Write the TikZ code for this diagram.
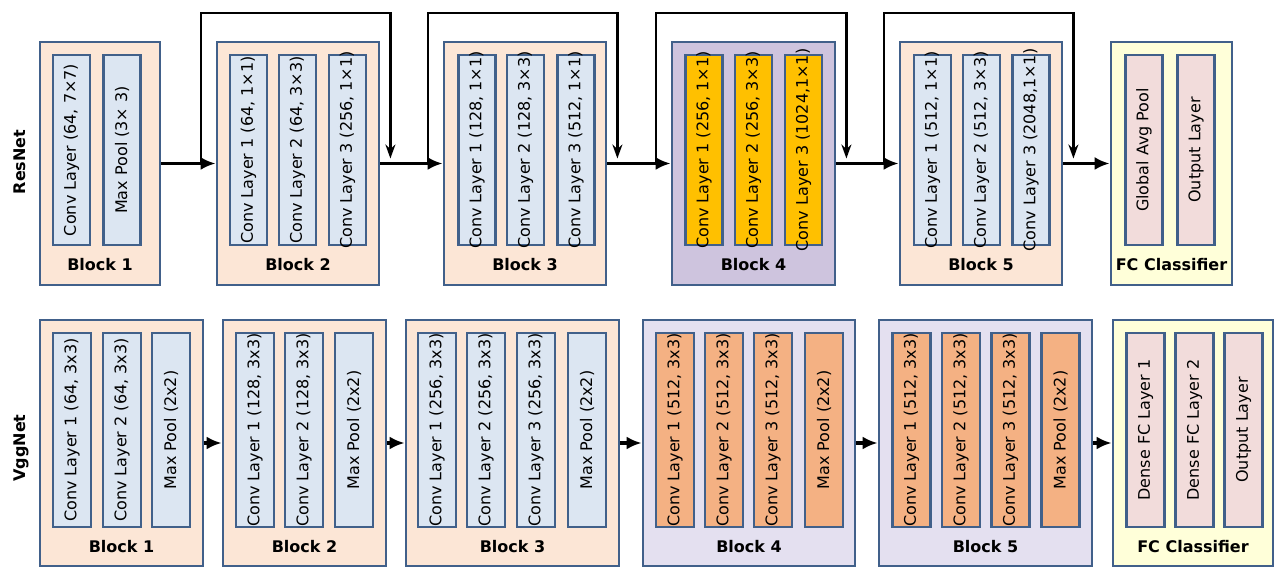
\documentclass[tikz,border=0pt]{standalone}
\usepackage{fontspec}
\setmainfont{DejaVu Sans}
\usetikzlibrary{arrows.meta,calc}
\definecolor{EdgeBlue}{HTML}{41608A}
\definecolor{PeachFill}{HTML}{FCE6D6}
\definecolor{IceBlue}{HTML}{DCE6F2}
\definecolor{LilacDark}{HTML}{CEC4DE}
\definecolor{LilacLight}{HTML}{E4E0F0}
\definecolor{GoldFill}{HTML}{FFC000}
\definecolor{ApricotFill}{HTML}{F4B183}
\definecolor{CreamFill}{HTML}{FFFFD9}
\definecolor{RoseFill}{HTML}{F2DCDB}

\begin{document}
\begin{tikzpicture}[x=1pt, y=1pt,
  blk/.style={draw=EdgeBlue, line width=2.8pt, fill=PeachFill, inner sep=0pt},
  rblk/.style={blk, minimum height=243pt},
  vblk/.style={blk, minimum height=246pt},
  layer/.style={draw=EdgeBlue, line width=2.6pt, fill=IceBlue, rotate=90, inner sep=0pt, minimum height=37pt,
    font=\fontsize{16}{19}\selectfont,
    execute at begin node={\hbox to 0pt\bgroup\hss}, execute at end node={\hss\egroup}},
  rlayer/.style={layer, minimum width=190pt},
  vlayer/.style={layer, minimum width=194pt, minimum height=38pt},
  tag/.style={font=\fontsize{16}{19}\selectfont\bfseries},
  flow/.style={line width=3.2pt, -{Latex[length=15pt,width=13pt]}},
  skip/.style={line width=2.2pt, -{Stealth[length=14pt,width=10pt]}}
]
\useasboundingbox (0,0) rectangle (1277,570);

% ResNet row
\node[tag, rotate=90] (rname) at (20,408) {ResNet};
\node[rblk, minimum width=120pt] (r1) at (100,406.5) {};
\node[rblk, minimum width=162pt] (r2) at (298,406.5) {};
\node[rblk, minimum width=162pt] (r3) at (525,406.5) {};
\node[rblk, minimum width=163pt, fill=LilacDark] (r4) at (753.5,406.5) {};
\node[rblk, minimum width=162pt] (r5) at (981,406.5) {};
\node[rblk, minimum width=121pt, fill=CreamFill] (rfc) at (1171.5,406.5) {};

\node[rlayer] (r1a) at (71.5,420) {Conv Layer (64, 7×7)};
\node[rlayer] (r1b) at (122,420) {Max Pool (3× 3)};
\node[rlayer] (r2a) at (248.5,420) {Conv Layer 1 (64, 1×1)};
\node[rlayer] (r2b) at (297.5,420) {Conv Layer 2 (64, 3×3)};
\node[rlayer] (r2c) at (347.5,420) {Conv Layer 3 (256, 1×1)};
\node[rlayer] (r3a) at (477,420) {Conv Layer 1 (128, 1×1)};
\node[rlayer] (r3b) at (525.5,420) {Conv Layer 2 (128, 3×3)};
\node[rlayer] (r3c) at (576,420) {Conv Layer 3 (512, 1×1)};
\node[rlayer, fill=GoldFill] (r4a) at (704,420) {Conv Layer 1 (256, 1×1)};
\node[rlayer, fill=GoldFill] (r4b) at (753.5,420) {Conv Layer 2 (256, 3×3)};
\node[rlayer, fill=GoldFill] (r4c) at (803.5,420) {Conv Layer 3 (1024,1×1)};
\node[rlayer] (r5a) at (932.5,420) {Conv Layer 1 (512, 1×1)};
\node[rlayer] (r5b) at (981.5,420) {Conv Layer 2 (512, 3×3)};
\node[rlayer] (r5c) at (1031,420) {Conv Layer 3 (2048,1×1)};
\node[rlayer, fill=RoseFill] (rfca) at (1144,420) {Global Avg Pool};
\node[rlayer, fill=RoseFill] (rfcb) at (1196,420) {Output Layer};

\node[tag] (r1t) at (100,305) {Block 1};
\node[tag] (r2t) at (298,305) {Block 2};
\node[tag] (r3t) at (525,305) {Block 3};
\node[tag] (r4t) at (753.5,305) {Block 4};
\node[tag] (r5t) at (981,305) {Block 5};
\node[tag] (rfct) at (1171.5,305) {FC Classifier};

\draw[flow] (r1.east) -- (r2.west);
\draw[flow] (r2.east) -- (r3.west);
\draw[flow] (r3.east) -- (r4.west);
\draw[flow] (r4.east) -- (r5.west);
\draw[flow] (r5.east) -- (rfc.west);

% skip connections
\draw[skip] ($(r2.west)+(-15,0)$) -- ++(0,150.5) -| ($(r2.east)+(10,5)$);
\draw[skip] ($(r3.west)+(-15,0)$) -- ++(0,150.5) -| ($(r3.east)+(10,5)$);
\draw[skip] ($(r4.west)+(-15,0)$) -- ++(0,150.5) -| ($(r4.east)+(10,5)$);
\draw[skip] ($(r5.west)+(-15,0)$) -- ++(0,150.5) -| ($(r5.east)+(10,5)$);

% VggNet row
\node[tag, rotate=90] (vname) at (21,122) {VggNet};
\node[vblk, minimum width=163pt] (v1) at (121.5,127) {};
\node[vblk, minimum width=163pt] (v2) at (304.5,127) {};
\node[vblk, minimum width=213pt] (v3) at (512.5,127) {};
\node[vblk, minimum width=212pt, fill=LilacLight] (v4) at (749,127) {};
\node[vblk, minimum width=213pt, fill=LilacLight] (v5) at (985.5,127) {};
\node[vblk, minimum width=160pt, fill=CreamFill] (vfc) at (1193,127) {};

\node[vlayer] (v1a) at (72,140) {Conv Layer 1 (64, 3x3)};
\node[vlayer] (v1b) at (122,140) {Conv Layer 2 (64, 3x3)};
\node[vlayer] (v1c) at (171,140) {Max Pool (2x2)};
\node[vlayer] (v2a) at (255,140) {Conv Layer 1 (128, 3x3)};
\node[vlayer] (v2b) at (304,140) {Conv Layer 2 (128, 3x3)};
\node[vlayer] (v2c) at (354,140) {Max Pool (2x2)};
\node[vlayer] (v3a) at (437,140) {Conv Layer 1 (256, 3x3)};
\node[vlayer] (v3b) at (486,140) {Conv Layer 2 (256, 3x3)};
\node[vlayer] (v3c) at (536,140) {Conv Layer 3 (256, 3x3)};
\node[vlayer] (v3d) at (587,140) {Max Pool (2x2)};
\node[vlayer, fill=ApricotFill] (v4a) at (675,140) {Conv Layer 1 (512, 3x3)};
\node[vlayer, fill=ApricotFill] (v4b) at (724,140) {Conv Layer 2 (512, 3x3)};
\node[vlayer, fill=ApricotFill] (v4c) at (773,140) {Conv Layer 3 (512, 3x3)};
\node[vlayer, fill=ApricotFill] (v4d) at (824,140) {Max Pool (2x2)};
\node[vlayer, fill=ApricotFill] (v5a) at (911.5,140) {Conv Layer 1 (512, 3x3)};
\node[vlayer, fill=ApricotFill] (v5b) at (961,140) {Conv Layer 2 (512, 3x3)};
\node[vlayer, fill=ApricotFill] (v5c) at (1010.5,140) {Conv Layer 3 (512, 3x3)};
\node[vlayer, fill=ApricotFill] (v5d) at (1060.5,140) {Max Pool (2x2)};
\node[vlayer, fill=RoseFill] (vfca) at (1145.5,140) {Dense FC Layer 1};
\node[vlayer, fill=RoseFill] (vfcb) at (1194.5,140) {Dense FC Layer 2};
\node[vlayer, fill=RoseFill] (vfcc) at (1243.5,140) {Output Layer};

\node[tag] (v1t) at (121.5,23) {Block 1};
\node[tag] (v2t) at (304.5,23) {Block 2};
\node[tag] (v3t) at (512.5,23) {Block 3};
\node[tag] (v4t) at (749,23) {Block 4};
\node[tag] (v5t) at (985.5,23) {Block 5};
\node[tag] (vfct) at (1193,23) {FC Classifier};

\draw[flow] (v1.east) -- (v2.west);
\draw[flow] (v2.east) -- (v3.west);
\draw[flow] (v3.east) -- (v4.west);
\draw[flow] (v4.east) -- (v5.west);
\draw[flow] (v5.east) -- (vfc.west);
\end{tikzpicture}
\end{document}
